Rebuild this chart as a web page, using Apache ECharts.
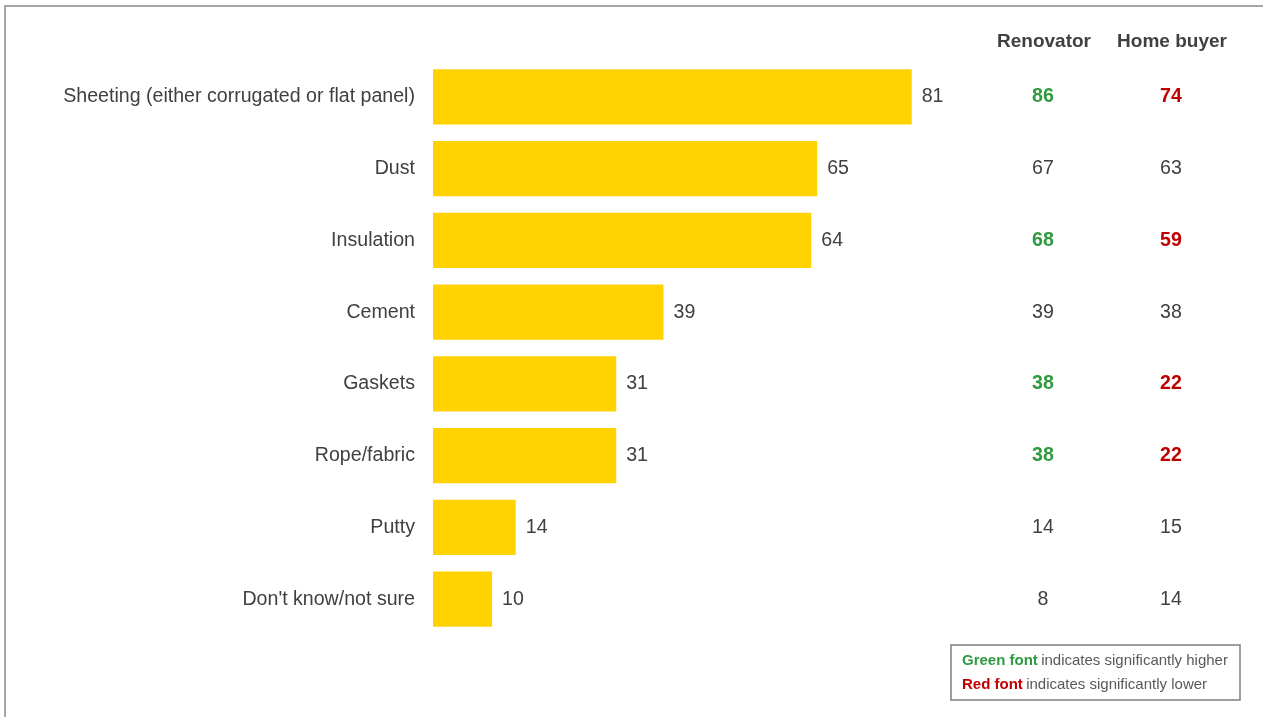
<!DOCTYPE html>
<html>
<head>
<meta charset="utf-8">
<script src="https://cdn.jsdelivr.net/npm/echarts@6/dist/echarts.min.js"></script>
<style>
  html, body { margin: 0; padding: 0; background: #fff; }
  #chart { width: 1263px; height: 717px; }
</style>
</head>
<body>
<div id="chart"></div>
<script>
// Asbestos-containing materials recognised (%)
const categories = [
  'Sheeting (either corrugated or flat panel)',
  'Dust',
  'Insulation',
  'Cement',
  'Gaskets',
  'Rope/fabric',
  'Putty',
  "Don't know/not sure"
];
const totalValues = [81, 65, 64, 39, 31, 31, 14, 10];
const renovatorValues = [86, 67, 68, 39, 38, 38, 14, 8];
const homeBuyerValues = [74, 63, 59, 38, 22, 22, 15, 14];
// significance flags: 1 = significantly higher, -1 = significantly lower, 0 = none
const renovatorSig = [1, 0, 1, 0, 1, 1, 0, 0];
const homeBuyerSig = [-1, 0, -1, 0, -1, -1, 0, 0];
const columnHeaders = ['Renovator', 'Home buyer'];

const FONT = 'Liberation Sans, Arial, sans-serif';
const TEXT = '#404040';
const GREEN = '#2f9a3f';
const RED = '#c00000';
const FS = 19.6;

function sigLabel(values, sig) {
  return function (value, idx) {
    const s = sig[idx];
    const style = s > 0 ? 'hi' : (s < 0 ? 'lo' : 'n');
    return '{' + style + '|' + values[idx] + '}';
  };
}
const sigRich = {
  hi: { color: GREEN, fontWeight: 'bold', fontSize: FS, fontFamily: FONT },
  lo: { color: RED, fontWeight: 'bold', fontSize: FS, fontFamily: FONT },
  n: { color: TEXT, fontSize: FS, fontFamily: FONT }
};

const chart = echarts.init(document.getElementById('chart'), null, { renderer: 'canvas' });
chart.setOption({
  animation: false,
  backgroundColor: '#fff',
  grid: { left: 433, right: 239, top: 61, height: 574, containLabel: false },
  xAxis: {
    type: 'value', min: 0, max: 100, show: false
  },
  yAxis: [
    {
      type: 'category', data: categories, inverse: true,
      axisLine: { show: false }, axisTick: { show: false },
      axisLabel: { color: TEXT, fontSize: FS, fontFamily: FONT, margin: 18 }
    },
    {
      type: 'category', data: categories, inverse: true, position: 'right', offset: 0,
      axisLine: { show: false }, axisTick: { show: false },
      axisLabel: { align: 'center', margin: 19, formatter: sigLabel(renovatorValues, renovatorSig), rich: sigRich }
    },
    {
      type: 'category', data: categories, inverse: true, position: 'right', offset: 128,
      axisLine: { show: false }, axisTick: { show: false },
      axisLabel: { align: 'center', margin: 19, formatter: sigLabel(homeBuyerValues, homeBuyerSig), rich: sigRich }
    }
  ],
  series: [{
    type: 'bar',
    data: totalValues,
    barCategoryGap: '23%',
    itemStyle: { color: '#ffd200' },
    label: {
      show: true, position: 'right', distance: 10,
      color: TEXT, fontSize: FS, fontFamily: FONT
    }
  }],
  graphic: [
    // frame lines
    { type: 'line', shape: { x1: 4, y1: 6, x2: 1263, y2: 6 }, style: { stroke: '#a6a6a6', lineWidth: 2 } },
    { type: 'line', shape: { x1: 5, y1: 6, x2: 5, y2: 717 }, style: { stroke: '#a6a6a6', lineWidth: 2 } },
    // column headers
    { type: 'text', x: 1044, y: 42, style: { text: columnHeaders[0], fill: TEXT, font: 'bold 19px ' + FONT, textAlign: 'center', textVerticalAlign: 'middle' } },
    { type: 'text', x: 1172, y: 42, style: { text: columnHeaders[1], fill: TEXT, font: 'bold 19px ' + FONT, textAlign: 'center', textVerticalAlign: 'middle' } },
    // significance key
    { type: 'rect', shape: { x: 951, y: 645, width: 289, height: 55 }, style: { fill: '#fff', stroke: '#7f7f7f', lineWidth: 1.5 } },
    {
      type: 'text', x: 962, y: 661,
      style: {
        text: '{g|Green font} {t|indicates significantly higher}',
        textVerticalAlign: 'middle',
        rich: {
          g: { fill: GREEN, fontWeight: 'bold', fontSize: 15, fontFamily: FONT },
          t: { fill: '#595959', fontSize: 15, fontFamily: FONT }
        }
      }
    },
    {
      type: 'text', x: 962, y: 685,
      style: {
        text: '{r|Red font} {t|indicates significantly lower}',
        textVerticalAlign: 'middle',
        rich: {
          r: { fill: RED, fontWeight: 'bold', fontSize: 15, fontFamily: FONT },
          t: { fill: '#595959', fontSize: 15, fontFamily: FONT }
        }
      }
    }
  ]
});
</script>
</body>
</html>
